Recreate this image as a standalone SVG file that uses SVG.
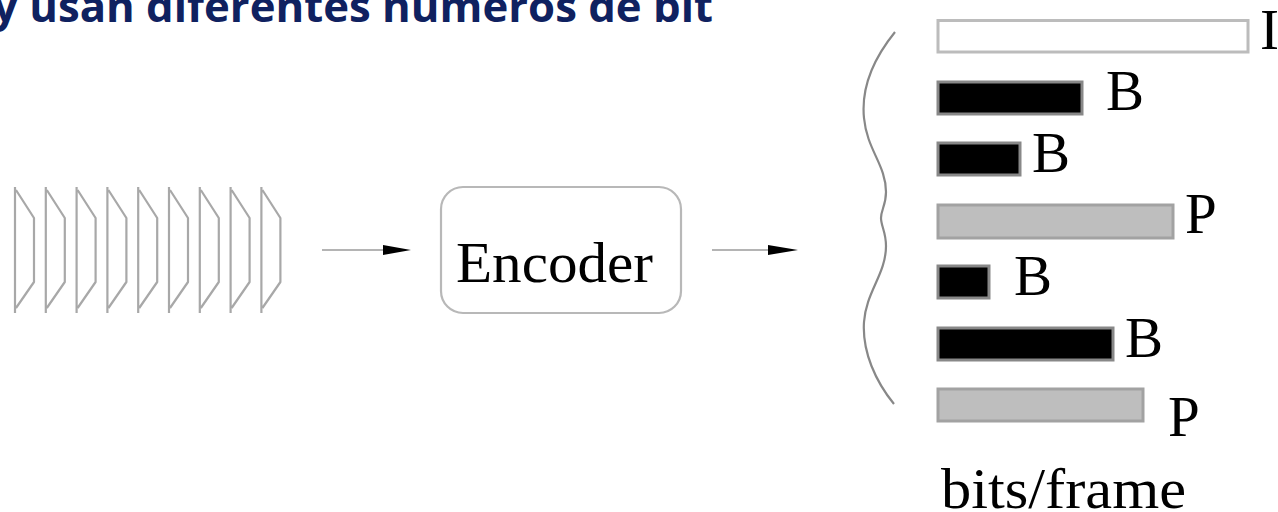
<svg xmlns="http://www.w3.org/2000/svg" width="1278" height="512" viewBox="0 0 1278 512">
  <style>
    .title { font-family: "Open Sans", "Liberation Sans", sans-serif; font-weight: bold; font-size: 43.6px; fill: #0f2160; }
    .lbl { font-family: "Liberation Serif", "DejaVu Serif", serif; font-size: 57px; fill: #000; }
    .frame { fill: none; stroke: #a8a8a8; stroke-width: 2.2; stroke-linejoin: round; }
    .conn { stroke: #b4b4b4; stroke-width: 2.2; fill: none; }
    .head { fill: #000; }
    .brace { fill: none; stroke: #888; stroke-width: 2.2; }
    .barI { fill: #fff; stroke: #bcbcbc; stroke-width: 3; }
    .barB { fill: #000; stroke: #888; stroke-width: 3; }
    .barP { fill: #bebebe; stroke: #a2a2a2; stroke-width: 3; }
  </style>

  <!-- heading line, partially above the top edge -->
  <text class="title" x="-7" y="22" textLength="720" lengthAdjust="spacingAndGlyphs">y usan diferentes números de bit</text>

  <!-- input video frames -->
  <defs>
    <path id="frameShape" d="M0,187 V313 M1,190 L19,218 V282 L1,308"/>
  </defs>
  <g id="frames" class="frame">
    <use href="#frameShape" x="15"/>
    <use href="#frameShape" x="45.8"/>
    <use href="#frameShape" x="76.6"/>
    <use href="#frameShape" x="107.4"/>
    <use href="#frameShape" x="138.2"/>
    <use href="#frameShape" x="169"/>
    <use href="#frameShape" x="199.8"/>
    <use href="#frameShape" x="230.6"/>
    <use href="#frameShape" x="261.4"/>
  </g>

  <!-- encoder block -->
  <g id="encoder">
    <rect x="441" y="187" width="240" height="126" rx="22" ry="22" fill="#fff" stroke="#b8b8b8" stroke-width="2.2"/>
    <text class="lbl" x="456" y="282" textLength="197" lengthAdjust="spacingAndGlyphs">Encoder</text>
  </g>

  <!-- connectors -->
  <g id="connectors">
    <line class="conn" x1="322" y1="250" x2="386" y2="250"/>
    <polygon class="head" points="383,245 411,250 383,255"/>
    <line class="conn" x1="712" y1="250" x2="771" y2="250"/>
    <polygon class="head" points="768,245 798,250 768,255"/>
  </g>

  <!-- grouping brace -->
  <g id="brace">
    <path class="brace" d="M895,32 C874,58 861,88 864,118 C867,150 886,165 886,192 C886,205 881,210 881,218 C881,226 886,232 886,246 C886,274 866,292 864,322 C862,352 876,382 894,404"/>
  </g>

  <!-- output bits per frame -->
  <g id="bar-I">
    <rect class="barI" x="938" y="20.5" width="310" height="31.5"/>
    <text class="lbl" x="1260" y="49">I</text>
  </g>
  <g id="bar-B1">
    <rect class="barB" x="938" y="82" width="144" height="32"/>
    <text class="lbl" x="1106" y="110">B</text>
  </g>
  <g id="bar-B2">
    <rect class="barB" x="938" y="143" width="82" height="32"/>
    <text class="lbl" x="1032" y="172">B</text>
  </g>
  <g id="bar-P1">
    <rect class="barP" x="938" y="205" width="235" height="33"/>
    <text class="lbl" x="1185" y="233">P</text>
  </g>
  <g id="bar-B3">
    <rect class="barB" x="938" y="266" width="51" height="32"/>
    <text class="lbl" x="1014" y="295">B</text>
  </g>
  <g id="bar-B4">
    <rect class="barB" x="938" y="328" width="175" height="32"/>
    <text class="lbl" x="1125" y="357">B</text>
  </g>
  <g id="bar-P2">
    <rect class="barP" x="938" y="389" width="205" height="32"/>
    <text class="lbl" x="1168" y="436">P</text>
  </g>
  <g id="axis-label">
    <text class="lbl" x="941" y="508" textLength="245" lengthAdjust="spacingAndGlyphs">bits/frame</text>
  </g>
</svg>
